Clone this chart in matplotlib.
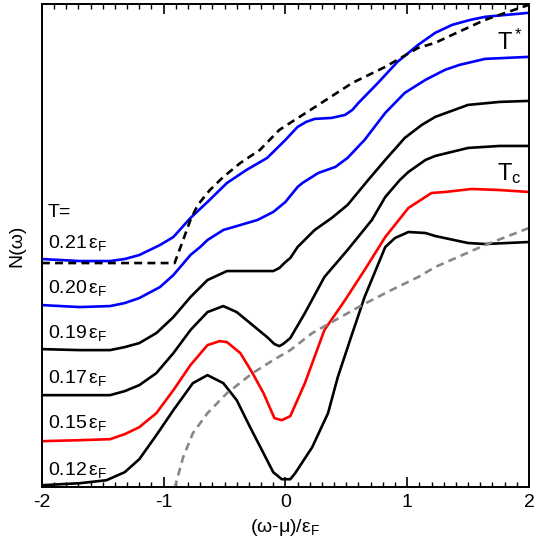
import numpy as np
import matplotlib.pyplot as plt
from matplotlib.ticker import MultipleLocator

plt.rcParams['font.family'] = ['Liberation Sans', 'DejaVu Sans']
plt.rcParams['mathtext.fontset'] = 'custom'
plt.rcParams['mathtext.rm'] = 'Liberation Sans'
plt.rcParams['mathtext.it'] = 'Liberation Sans:italic'
plt.rcParams['axes.unicode_minus'] = False
plt.rcParams['lines.solid_joinstyle'] = 'round'
plt.rcParams['lines.dash_capstyle'] = 'butt'

# spectra (y in arbitrary offset units)
x021 = [-2.0, -1.69, -1.44, -1.32, -1.20, -1.03, -0.92, -0.78, -0.64, -0.48, -0.32, -0.15, -0.05, 0.0, 0.10, 0.17, 0.24, 0.38, 0.49, 0.55, 0.60, 0.76, 0.92, 1.09, 1.23, 1.37, 1.52, 1.64, 2.0]
y021 = [228, 226, 226, 228, 232, 242, 250, 269, 285, 304, 317, 329, 341, 347, 360, 365, 368, 369, 372, 377, 384, 404, 425, 442, 454, 462, 467, 470, 474]

x020 = [-2.0, -1.69, -1.44, -1.32, -1.20, -1.03, -0.92, -0.78, -0.70, -0.64, -0.51, -0.37, -0.23, -0.10, 0.0, 0.10, 0.14, 0.27, 0.41, 0.51, 0.65, 0.82, 0.98, 1.15, 1.31, 1.43, 1.64, 2.0]
y020 = [182, 180, 181, 184, 189, 200, 212, 232, 240, 247, 257, 262, 267, 275, 285, 300, 304, 314, 320, 329, 347, 374, 394, 407, 417, 422, 428, 430]

x019 = [-2.0, -1.69, -1.44, -1.32, -1.20, -1.06, -0.92, -0.78, -0.64, -0.48, -0.29, -0.10, -0.05, 0.0, 0.04, 0.10, 0.24, 0.38, 0.51, 0.68, 0.82, 0.98, 1.12, 1.23, 1.50, 1.76, 2.0]
y019 = [138, 137, 137, 140, 144, 154, 170, 190, 207, 216, 216, 216, 219, 225, 229, 240, 257, 269, 282, 307, 327, 349, 362, 370, 382, 385, 386]

x017 = [-2.0, -1.69, -1.44, -1.32, -1.20, -1.06, -0.92, -0.78, -0.64, -0.51, -0.40, -0.27, -0.15, -0.09, -0.05, -0.02, 0.04, 0.16, 0.32, 0.51, 0.71, 0.82, 0.94, 1.01, 1.15, 1.23, 1.50, 1.76, 2.0]
y017 = [92, 92, 92, 96, 102, 114, 134, 157, 175, 181, 175, 162, 150, 143, 141, 143, 149, 174, 210, 237, 267, 290, 307, 315, 327, 331, 339, 341, 341]

x015 = [-2.0, -1.69, -1.44, -1.32, -1.20, -1.06, -0.92, -0.78, -0.64, -0.54, -0.48, -0.37, -0.27, -0.18, -0.09, -0.03, 0.04, 0.16, 0.32, 0.49, 0.65, 0.82, 1.01, 1.20, 1.31, 1.53, 1.75, 2.0]
y015 = [46, 47, 48, 53, 60, 74, 97, 122, 142, 146, 145, 134, 114, 94, 69, 67, 71, 104, 157, 187, 217, 250, 279, 294, 295, 298, 297, 295]

x012 = [-2.0, -1.69, -1.47, -1.32, -1.20, -1.06, -0.92, -0.76, -0.64, -0.51, -0.40, -0.29, -0.18, -0.10, -0.03, 0.04, 0.08, 0.22, 0.35, 0.43, 0.55, 0.65, 0.82, 0.90, 1.01, 1.15, 1.23, 1.50, 1.64, 2.0]
y012 = [2, 4, 7, 15, 28, 52, 77, 104, 112, 104, 87, 60, 34, 15, 8, 8, 14, 40, 74, 110, 154, 190, 240, 249, 255, 254, 251, 244, 243, 245]

# free-particle DOS references
xTs = [-2.0, -0.91, -0.84, -0.78, -0.72, -0.62, -0.51, -0.37, -0.21, -0.05, 0.0, 0.27, 0.55, 0.82, 1.09, 1.23, 1.37, 1.64, 2.0]
yTs = [224, 224, 247, 267, 282, 297, 310, 324, 337, 357, 361, 382, 404, 420, 439, 444, 452, 467, 482]

xTc = [-0.91, -0.84, -0.76, -0.64, -0.48, -0.27, -0.10, 0.04, 0.22, 0.41, 0.63, 0.87, 1.09, 1.23, 1.64, 2.0]
yTc = [-1, 30, 54, 74, 94, 114, 127, 137, 154, 167, 182, 197, 210, 220, 242, 259]

labels = ['0.21', '0.20', '0.19', '0.17', '0.15', '0.12']
label_y = [239, 194, 149, 104, 59, 12]

fig = plt.figure(figsize=(5.37, 5.45), dpi=100)
ax = fig.add_axes([0.078, 0.106, 0.907, 0.887])

lw = 1.9
ax.plot(x021, y021, color='#0000ff', lw=lw)
ax.plot(x020, y020, color='#0000ff', lw=lw)
ax.plot(x019, y019, color='black', lw=lw)
ax.plot(x017, y017, color='black', lw=lw)
ax.plot(x015, y015, color='#ff0000', lw=lw)
ax.plot(x012, y012, color='black', lw=lw)
ax.plot(xTs, yTs, color='black', lw=lw, ls=(0, (3, 2)))
ax.plot(xTc, yTc, color='#888888', lw=lw, ls=(0, (3, 2)))

ax.text(-1.95, 270, 'T=', fontsize=14)
for lab, yy in zip(labels, label_y):
    ax.text(-1.95, yy, lab + r'$\,\mathrm{ε}_\mathrm{F}$', fontsize=14)
ax.text(1.74, 437, r'T$^*$', fontsize=17)
ax.text(1.74, 307, r'T$_\mathrm{c}$', fontsize=17)

ax.set_xlim(-2, 2)
ax.set_ylim(0, 483)
ax.xaxis.set_major_locator(MultipleLocator(1))
ax.xaxis.set_minor_locator(MultipleLocator(0.1))
ax.tick_params(axis='x', which='both', direction='in', top=True, labelsize=14, pad=5)
ax.tick_params(axis='x', which='major', length=7, width=1.2)
ax.tick_params(axis='x', which='minor', length=3.5, width=1)
ax.set_yticks([])
for s in ax.spines.values():
    s.set_linewidth(1.4)

ax.set_xlabel(r'(ω-μ)/$\mathrm{ε}_\mathrm{F}$', fontsize=14, labelpad=4)
ax.set_ylabel('N(ω)', fontsize=14, labelpad=12)

fig.savefig('out.png', dpi=100)
